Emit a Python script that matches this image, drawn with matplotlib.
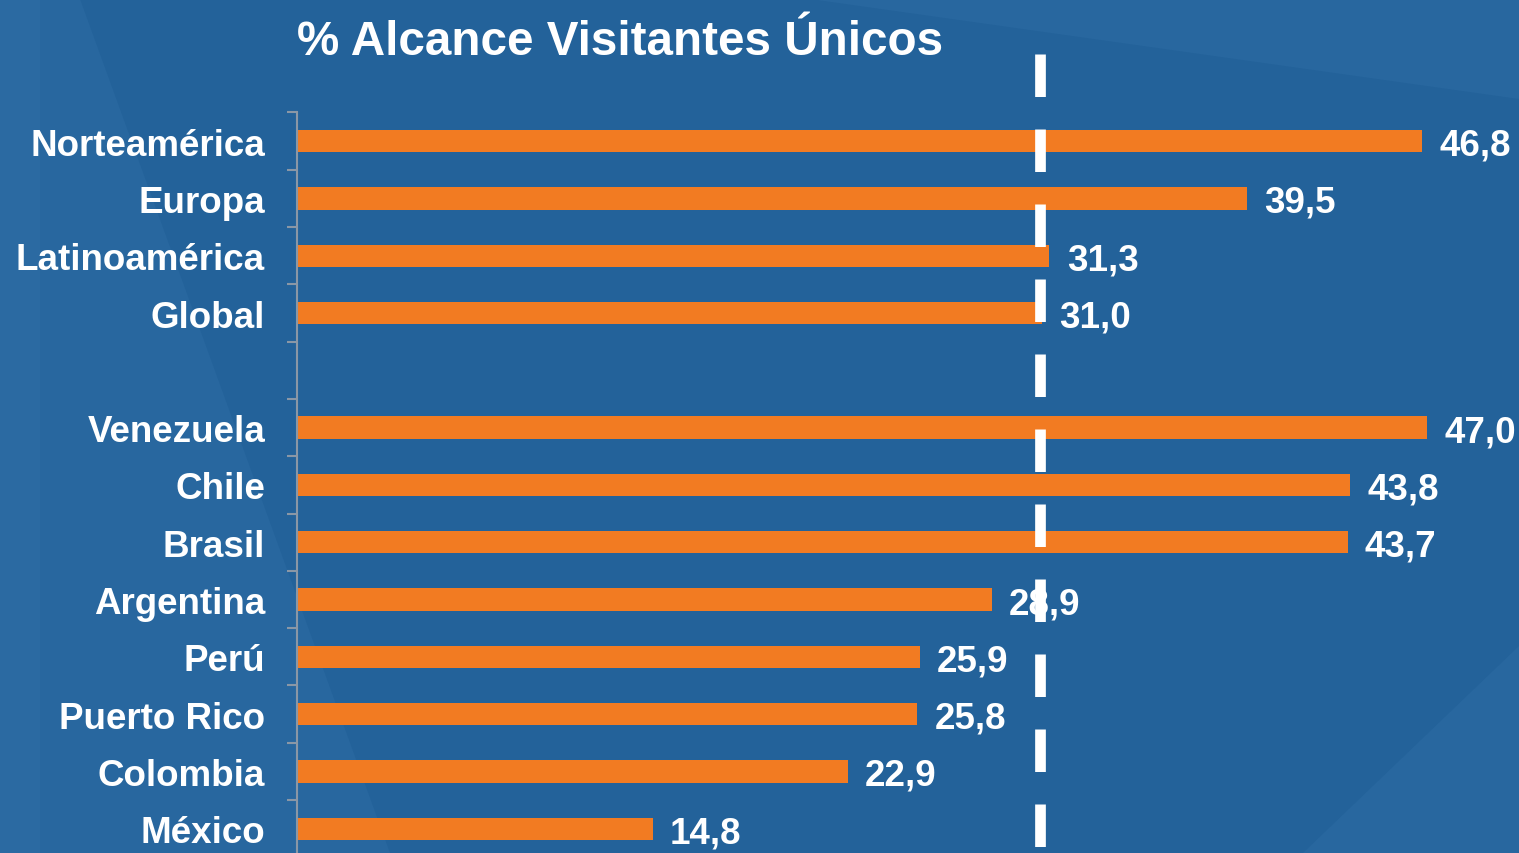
import numpy as np
import matplotlib
matplotlib.use('Agg')
import matplotlib.pyplot as plt
from matplotlib.patches import Polygon

# 数据
regiones = ['Norteamérica', 'Europa', 'Latinoamérica', 'Global', '',
            'Venezuela', 'Chile', 'Brasil', 'Argentina', 'Perú',
            'Puerto Rico', 'Colombia', 'México']
valores = [46.8, 39.5, 31.3, 31.0, np.nan,
           47.0, 43.8, 43.7, 28.9, 25.9, 25.8, 22.9, 14.8]
etiquetas = ['46,8', '39,5', '31,3', '31,0', '',
             '47,0', '43,8', '43,7', '28,9', '25,9', '25,8', '22,9', '14,8']
referencia = 30.9  # línea punteada

plt.rcParams['font.family'] = ['Liberation Sans', 'DejaVu Sans']
plt.rcParams['font.weight'] = 'bold'
plt.rcParams['lines.scale_dashes'] = False

W, H = 1519, 854
fig = plt.figure(figsize=(W / 100, H / 100), dpi=100)
fig.patch.set_facecolor('#23629a')

# fondo: zonas algo más claras
def fondo(pts, color):
    fig.patches.append(Polygon([(x / W, 1 - y / H) for x, y in pts],
                               closed=True, transform=fig.transFigure,
                               facecolor=color, edgecolor='none', zorder=-10))

fondo([(0, 0), (80, 0), (390, 854), (0, 854)], '#28679f')
fondo([(0, 0), (40, 0), (40, 854), (0, 854)], '#2b6aa2')
fondo([(810, 0), (1519, 0), (1519, 100)], '#28679f')
fondo([(1303, 854), (1519, 647), (1519, 854)], '#28679f')

# ejes
px_unit = 24.04
xmax = 50
left, top, row = 297, 113.5, 57.3
n = len(regiones)
ax = fig.add_axes([left / W, 1 - (top + n * row) / H,
                   xmax * px_unit / W, n * row / H])
ax.set_facecolor('none')

y = np.arange(n)
ax.barh(y, valores, height=0.39, color='#f27b22', zorder=2)
for yi, v, t in zip(y, valores, etiquetas):
    if t:
        ax.text(v + 0.72, yi, t, va='center_baseline', ha='left', color='white',
                fontsize=26.5, fontweight='bold', zorder=3)

ax.set_xlim(0, xmax)
ax.set_ylim(n - 0.5, -0.5)

ax.set_yticks(y)
ax.set_yticklabels(regiones)
ax.tick_params(axis='y', which='major', length=0, pad=23,
               labelsize=26.5, labelcolor='white')
ax.set_yticks(np.arange(n + 1) - 0.5, minor=True)
ax.tick_params(axis='y', which='minor', length=7.2, width=1.5, color='#8a97a6')
ax.set_xticks([])
for s in ['top', 'right', 'bottom']:
    ax.spines[s].set_visible(False)
ax.spines['left'].set_color('#8a97a6')
ax.spines['left'].set_linewidth(1.5)

# línea de referencia punteada
y_top = -0.5 - (top - 55) / row
ax.plot([referencia, referencia], [y_top, n + 0.5], color='white', lw=7.7,
        linestyle=(0, (30.6, 23.4)), solid_capstyle='butt',
        dash_capstyle='butt', clip_on=False, zorder=5)

# título
fig.text(297 / W, 1 - 55 / H, '% Alcance Visitantes Únicos', ha='left',
         va='baseline', color='white', fontsize=34.3, fontweight='bold')

fig.savefig('out.png', dpi=100, facecolor=fig.get_facecolor())
